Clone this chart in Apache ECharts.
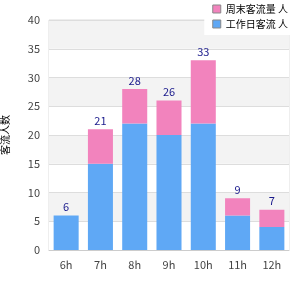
<!DOCTYPE html>
<html>
<head>
<meta charset="utf-8">
<script src="https://cdn.jsdelivr.net/npm/echarts@6/dist/echarts.min.js"></script>
<style>
  html, body { margin: 0; padding: 0; background: #fff; }
  #main { width: 300px; height: 300px; }
</style>
</head>
<body>
<div id="main"></div>
<script>
// 数据
var hours = ['6h', '7h', '8h', '9h', '10h', '11h', '12h'];
var weekday = [6, 15, 22, 20, 22, 6, 4];   // 蓝色
var weekend = [0, 6, 6, 6, 11, 3, 3];      // 粉色
var totals = [6, 21, 28, 26, 33, 9, 7];
var yTicks = [0, 5, 10, 15, 20, 25, 30, 35, 40];

var chart = echarts.init(document.getElementById('main'), null, { renderer: 'canvas' });

var option = {
  animation: false,
  textStyle: { fontFamily: 'Noto Sans CJK SC, DejaVu Sans, sans-serif' },
  legend: {
    data: ['周末客流量 人', '工作日客流 人'],
    orient: 'vertical',
    right: 6,
    top: 0,
    padding: [4, 6, 6, 8],
    backgroundColor: '#fff',
    icon: 'rect',
    itemWidth: 8,
    itemHeight: 8,
    itemGap: 5,
    itemStyle: { borderColor: '#888', borderWidth: 1 },
    textStyle: { fontSize: 10, color: '#000' }
  },
  grid: {
    left: 49, right: 11, top: 20, bottom: 50,
    outerBoundsMode: 'none',
    containLabel: false,
    show: true,
    borderColor: '#ddd',
    borderWidth: 1
  },
  xAxis: {
    type: 'category',
    data: hours,
    axisTick: { show: false },
    axisLine: { lineStyle: { color: '#ccc' } },
    axisLabel: { color: '#444', fontSize: 11, margin: 9 }
  },
  yAxis: {
    type: 'value',
    min: yTicks[0],
    max: yTicks[yTicks.length - 1],
    interval: 5,
    name: '客流人数',
    nameLocation: 'middle',
    nameRotate: 90,
    nameGap: 39,
    nameTextStyle: { fontSize: 10, color: '#000' },
    axisLine: { show: false },
    axisTick: { show: false },
    axisLabel: { color: '#444', fontSize: 11, margin: 9 },
    splitLine: { lineStyle: { color: '#ddd' } },
    splitArea: { show: true, areaStyle: { color: ['#fff', '#f3f3f3'] } }
  },
  series: [{
    name: '工作日客流 人',
    type: 'bar',
    stack: 'all',
    barCategoryGap: '27%',
    itemStyle: { color: '#5fa8f5' },
    data: weekday
  }, {
    name: '周末客流量 人',
    type: 'bar',
    stack: 'all',
    barCategoryGap: '27%',
    itemStyle: { color: '#f283bd' },
    label: {
      show: true,
      position: 'top',
      distance: 3,
      color: '#1a1a8c',
      fontSize: 11,
      formatter: function (p) { return totals[p.dataIndex]; }
    },
    data: weekend
  }]
};

chart.setOption(option);
</script>
</body>
</html>
